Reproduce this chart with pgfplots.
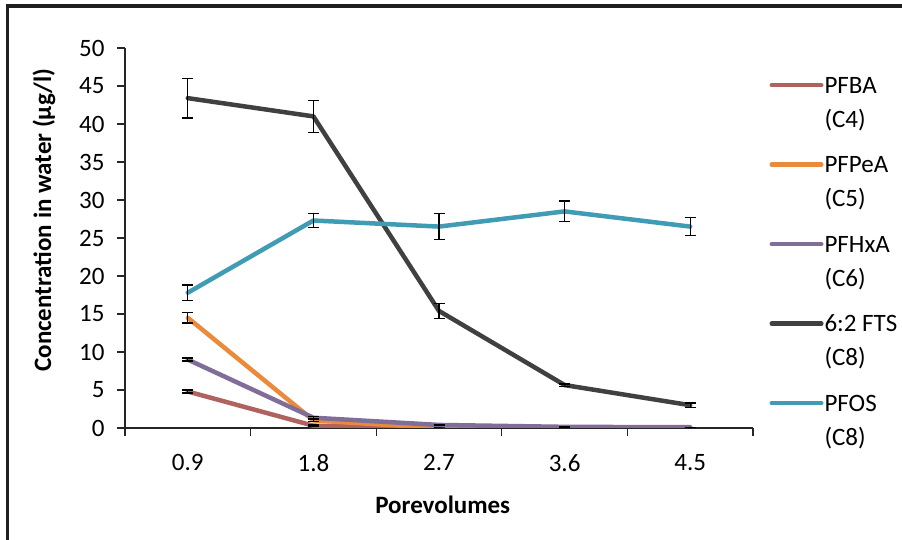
\documentclass[border=0pt]{standalone}
\usepackage{pgfplots}
\pgfplotsset{compat=1.18}
\usepackage{fontspec}
\setmainfont{Carlito}
\definecolor{cA}{HTML}{B0625F}
\definecolor{cB}{HTML}{EA8A3A}
\definecolor{cC}{HTML}{806E98}
\definecolor{cD}{HTML}{404040}
\definecolor{cE}{HTML}{409CB4}
\begin{document}
\begin{tikzpicture}[x=1bp,y=1bp]
\begin{axis}[
  at={(125bp,112bp)}, anchor=south west,
  scale only axis, width=628bp, height=380bp,
  xmin=-0.5, xmax=4.5, ymin=0, ymax=50,
  axis lines=left,
  axis line style={line width=1.2bp, black!85, -},
  xtick={-0.5,0.5,...,4.5}, xticklabels={},
  extra x ticks={0,1,2,3,4},
  extra x tick labels={0.9,1.8,2.7,3.6,4.5},
  extra x tick style={major tick length=0pt},
  ytick={0,5,...,50},
  tick align=outside,
  major tick length=8bp,
  tick style={line width=1.2bp, black!85},
  /pgf/number format/assume math mode=true,
  tick label style={font=\fontsize{25bp}{30bp}\selectfont},
  xticklabel style={yshift=-23bp},
  yticklabel style={xshift=-9bp},
  label style={font=\fontsize{25bp}{30bp}\selectfont\bfseries},
  xlabel={Porevolumes},
  ylabel={Concentration in water (µg/l)},
  xlabel style={at={(axis description cs:0.506,-0.203)}, anchor=center},
  ylabel style={at={(axis description cs:-0.129,0.547)}, anchor=center, rotate=0},
  every axis plot/.append style={line width=4.5bp, line cap=round, line join=round, mark=none},
  error bars/y dir=both, error bars/y explicit,
  error bars/error bar style={line width=1.3bp, black, line cap=butt},
  error bars/error mark options={rotate=90, mark size=5.5bp, line width=1.3bp, black},
  legend style={draw=none, fill=none, at={(axis description cs:1.026,0.9395)}, anchor=north west,
    inner sep=0pt, row sep=54bp, column sep=-1bp,
    font=\fontsize{25bp}{34bp}\selectfont,
    cells={anchor=base west, text height=20bp, text depth=6bp, inner ysep=0pt}},
  legend image code/.code={\draw[#1, line width=4.5bp, line cap=round] (2.25bp,8bp) -- (51.75bp,8bp);},
]
\addplot[cA] table[x=x, y=y, y error=e] {
x y e
0 4.8 0.2
1 0.3 0.1
2 0.1 0
3 0.05 0
4 0.05 0
};
\addlegendentry{\parbox[t]{80bp}{PFBA\newline (C4)}}
\addplot[cB] table[x=x, y=y, y error=e] {
x y e
0 14.5 0.7
1 1.0 0.1
2 0.0 0
3 0.0 0
4 0.0 0
};
\addlegendentry{\parbox[t]{80bp}{PFPeA\newline (C5)}}
\addplot[cC] table[x=x, y=y, y error=e] {
x y e
0 9.0 0.2
1 1.35 0.15
2 0.4 0
3 0.15 0
4 0.1 0
};
\addlegendentry{\parbox[t]{80bp}{PFHxA\newline (C6)}}
\addplot[cD] table[x=x, y=y, y error=e] {
x y e
0 43.4 2.6
1 41.0 2.1
2 15.4 1.0
3 5.65 0.15
4 3.0 0.3
};
\addlegendentry{\parbox[t]{80bp}{6:2 FTS\newline (C8)}}
\addplot[cE] table[x=x, y=y, y error=e] {
x y e
0 17.8 1.0
1 27.3 0.9
2 26.5 1.7
3 28.5 1.35
4 26.5 1.2
};
\addlegendentry{\parbox[t]{80bp}{PFOS\newline (C8)}}
\end{axis}
\draw[line width=3.5bp, color=black!88, line cap=butt] (7.5,-10) -- (7.5,534) -- (920,534);
\pgfresetboundingbox
\useasboundingbox (0,0) rectangle (902,540);
\end{tikzpicture}
\end{document}
